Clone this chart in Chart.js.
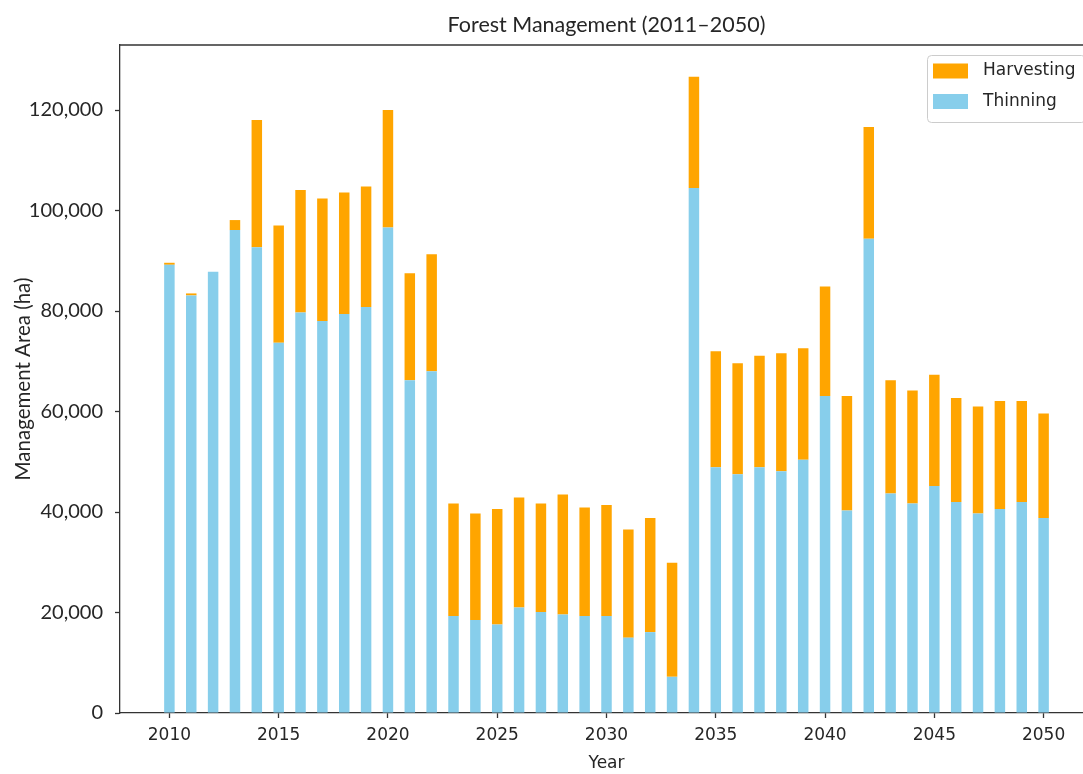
<!DOCTYPE html>
<html>
<head>
<meta charset="utf-8">
<title>Forest Management (2011–2050)</title>
<script src="https://cdn.jsdelivr.net/npm/chart.js@4"></script>
<style>
  html, body { margin: 0; padding: 0; background: #fff; overflow: hidden; }
  #wrap { width: 1094px; height: 774px; }
</style>
</head>
<body>
<div id="wrap"><canvas id="chart" width="1094" height="774"></canvas></div>
<script>
// values (ha)
const years = [2010, 2011, 2012, 2013, 2014, 2015, 2016, 2017, 2018, 2019, 2020, 2021, 2022,
    2023, 2024, 2025, 2026, 2027, 2028, 2029, 2030, 2031, 2032, 2033,
    2034, 2035, 2036, 2037, 2038, 2039, 2040, 2041, 2042, 2043, 2044, 2045, 2046, 2047, 2048, 2049, 2050];
const thinning = [89200, 83100, 87800, 96100, 92700, 73700, 79700, 78000, 79400, 80800, 96600, 66200, 68000,
    19300, 18500, 17600, 21000, 20100, 19600, 19300, 19300, 15000, 16100, 7200,
    104500, 48900, 47500, 48900, 48100, 50400, 63100, 40300, 94400, 43700, 41700, 45200, 42000, 39700, 40600, 42000, 38800];
const harvesting = [400, 400, 0, 2000, 25300, 23300, 24400, 24400, 24200, 24000, 23400, 21300, 23300,
    22400, 21200, 23000, 21900, 21600, 23900, 21600, 22100, 21500, 22700, 22700,
    22100, 23100, 22100, 22200, 23500, 22200, 21800, 22800, 22200, 22500, 22500, 22100, 20700, 21300, 21500, 20100, 20800];
const xTicks = [2010, 2015, 2020, 2025, 2030, 2035, 2040, 2045, 2050];
const yTicks = [0, 20000, 40000, 60000, 80000, 100000, 120000];

const inkColor = "#262626";
const spineColor = "#333333";

// top/right frame lines like a matplotlib axes box
const framePlugin = {
    id: "frame",
    afterDraw(chart) {
        const {ctx, chartArea: a} = chart;
        ctx.save();
        ctx.strokeStyle = spineColor;
        ctx.lineWidth = 1.3;
        ctx.beginPath();
        ctx.moveTo(a.left, a.top);
        ctx.lineTo(a.right, a.top);
        ctx.lineTo(a.right, a.bottom);
        ctx.stroke();
        ctx.restore();
    }
};

// legend box inside the plot, upper right, reversed order (Harvesting on top)
const insideLegend = {
    id: "insideLegend",
    afterDraw(chart) {
        const {ctx, chartArea: a} = chart;
        const items = chart.data.datasets.slice().reverse();
        const boxX = a.right - 166, boxY = a.top + 10, boxW = 158, boxH = 67;
        ctx.save();
        ctx.fillStyle = "rgba(255,255,255,0.85)";
        ctx.strokeStyle = "#cccccc";
        ctx.lineWidth = 1;
        ctx.beginPath();
        ctx.roundRect(boxX + 0.5, boxY + 0.5, boxW, boxH, 4);
        ctx.fill();
        ctx.stroke();
        ctx.font = "17px 'DejaVu Sans'";
        ctx.textBaseline = "middle";
        items.forEach((ds, i) => {
            const cy = boxY + 16 + i * 30.5;
            ctx.fillStyle = ds.backgroundColor;
            ctx.fillRect(boxX + 6, cy - 7.5, 35, 15);
            ctx.fillStyle = inkColor;
            ctx.fillText(ds.label, boxX + 56, cy);
        });
        ctx.restore();
    }
};

new Chart(document.getElementById("chart"), {
    type: "bar",
    data: {
        datasets: [
            {
                label: "Thinning",
                data: years.map((y, i) => ({x: y, y: thinning[i]})),
                backgroundColor: "#87CEEB",
                borderWidth: 0,
                barPercentage: 0.48,
                categoryPercentage: 1.0
            },
            {
                label: "Harvesting",
                data: years.map((y, i) => ({x: y, y: harvesting[i]})),
                backgroundColor: "#FFA500",
                borderWidth: 0,
                barPercentage: 0.48,
                categoryPercentage: 1.0
            }
        ]
    },
    options: {
        responsive: false,
        animation: false,
        layout: {padding: {left: 0, right: 1, top: 0, bottom: 0}},
        plugins: {
            legend: {display: false},
            tooltip: {enabled: false},
            title: {
                display: true,
                fullSize: false,
                text: "Forest Management (2011–2050)",
                color: inkColor,
                font: {family: "Lato", size: 21.5, weight: "normal"},
                padding: {top: 12, bottom: 7.2}
            }
        },
        scales: {
            x: {
                type: "linear",
                stacked: true,
                offset: false,
                min: 2007.74,
                max: 2052.26,
                afterBuildTicks(scale) { scale.ticks = xTicks.map(v => ({value: v})); },
                afterFit(scale) { scale.height = 61; },
                grid: {offset: false, drawOnChartArea: false, tickLength: 5, tickColor: spineColor, tickWidth: 1.3},
                border: {display: true, color: spineColor, width: 1.3},
                ticks: {
                    color: inkColor,
                    font: {family: "DejaVu Sans", size: 17},
                    padding: 7,
                    maxRotation: 0,
                    autoSkip: false,
                    callback: v => String(v)
                },
                title: {
                    display: true,
                    text: "Year",
                    color: inkColor,
                    font: {family: "DejaVu Sans", size: 17},
                    padding: {top: 0, bottom: 0}
                }
            },
            y: {
                stacked: true,
                min: 0,
                max: 132940,
                afterBuildTicks(scale) { scale.ticks = yTicks.map(v => ({value: v})); },
                afterFit(scale) { scale.width = 120; },
                grid: {drawOnChartArea: false, tickLength: 5, tickColor: spineColor, tickWidth: 1.3},
                border: {display: true, color: spineColor, width: 1.3},
                ticks: {
                    color: inkColor,
                    font: {family: "Lato", size: 20},
                    padding: 12,
                    callback: v => v.toLocaleString("en-US")
                },
                title: {
                    display: true,
                    text: "Management Area (ha)",
                    color: inkColor,
                    font: {family: "Lato", size: 20.5},
                    padding: {top: 11, bottom: 0}
                }
            }
        }
    },
    plugins: [framePlugin, insideLegend]
});
</script>
</body>
</html>
